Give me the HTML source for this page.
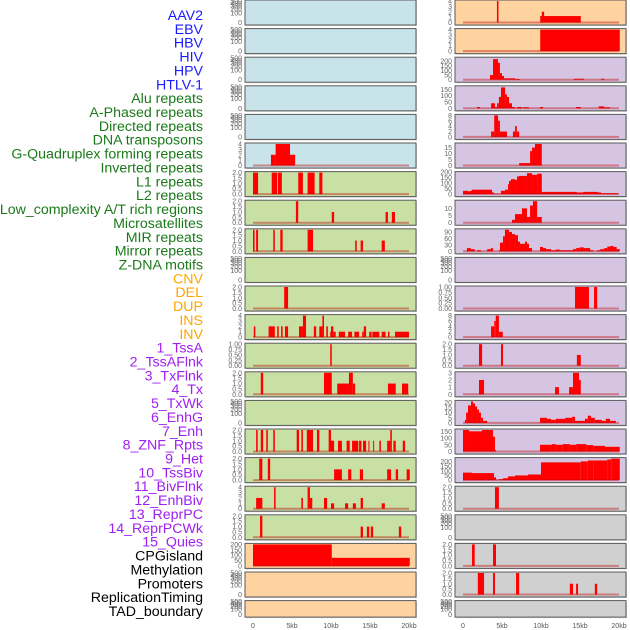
<!DOCTYPE html>
<html><head><meta charset="utf-8"><style>
html,body{margin:0;padding:0;background:#fff;}
svg{display:block;font-family:"Liberation Sans",sans-serif;}
</style></head><body>
<svg id="chart" width="630" height="630" viewBox="0 0 630 630"></svg>
<script>
const NS="http://www.w3.org/2000/svg";
const labels=["AAV2","EBV","HBV","HIV","HPV","HTLV-1","Alu repeats","A-Phased repeats","Directed repeats","DNA transposons","G-Quadruplex forming repeats","Inverted repeats","L1 repeats","L2 repeats","Low_complexity A/T rich regions","Microsatellites","MIR repeats","Mirror repeats","Z-DNA motifs","CNV","DEL","DUP","INS","INV","1_TssA","2_TssAFlnk","3_TxFlnk","4_Tx","5_TxWk","6_EnhG","7_Enh","8_ZNF_Rpts","9_Het","10_TssBiv","11_BivFlnk","12_EnhBiv","13_ReprPC","14_ReprPCWk","15_Quies","CPGisland","Methylation","Promoters","ReplicationTiming","TAD_boundary"];
const labelGroups=[6,13,5,15,5];
const groupColors=["#1a1aff","#1a7a1a","#ffa500","#a020f0","#000000"];
const xTicks=[0,5,10,15,20];
const xTickLabels=["0","5kb","10kb","15kb","20kb"];
const leftBg=["b","b","b","b","b","b","g","g","g","g","g","g","g","g","g","g","g","g","g","o","o","o"];
const rightBg=["o","o","p","p","p","p","p","p","p","p","p","p","p","p","p","p","p","y","y","y","y","y"];
const leftMax=[0,0,0,0,0,4,2,2,2,0,2,4,1,2,0,2,2,4,2,200,0,0];
const rightMax=[4,4,230,170,8,18,195,15,100,0,1,8,2,3,21,160,230,2,0,2,2,0];
const leftTicks=[[],[],[],[],[],[0,1,2,3,4],[0,0.5,1,1.5,2],[0,0.5,1,1.5,2],[0,0.5,1,1.5,2],[],[0,0.5,1,1.5,2],[0,1,2,3,4],[0,0.25,0.5,0.75,1],[0,0.5,1,1.5,2],[],[0,0.5,1,1.5,2],[0,0.5,1,1.5,2],[0,1,2,3,4],[0,0.5,1,1.5,2],[0,50,100,150,200],[],[]];
const rightTicks=[[0,1,2,3,4],[0,1,2,3,4],[0,50,100,150,200],[0,50,100,150],[0,2,4,6,8],[0,5,10,15],[0,50,100,150,200],[0,5,10],[0,30,60,90],[],[0,0.25,0.5,0.75,1],[0,2,4,6,8],[0,0.5,1,1.5,2],[0,1,2,3],[0,5,10,15,20],[0,50,100,150],[0,50,100,150,200],[0,0.5,1,1.5,2],[],[0,0.5,1,1.5,2],[0,0.5,1,1.5,2],[]];
const emptyTicks=[0,100,200,300,400,500];
const leftBars=[[],[],[],[],[],
[[2.3,2.9,2],[2.9,4.75,4],[4.75,5.4,2]],
[[0,0.65,2],[2.4,3.1,2],[3.2,3.7,2],[5.8,6.4,2],[7.0,7.9,2],[8.5,8.9,2]],
[[5.5,5.8,2],[10.1,10.4,1],[17.0,17.3,1],[17.8,18.2,1]],
[[0,0.2,2],[0.4,0.65,2],[2.6,2.8,2],[3.5,3.8,2],[7.0,7.7,2],[13.1,13.3,1],[13.8,14.1,1],[16.5,16.9,1]],
[],
[[4.0,4.5,2]],
[[0.1,0.3,2],[2.0,2.8,2],[3.1,3.3,2],[3.6,3.8,2],[4.1,4.5,2],[5.9,6.4,2],[6.4,6.8,4],[7.8,8.1,2],[8.5,8.9,2],[8.9,9.1,4],[9.4,9.6,2],[9.9,10.0,1],[10.0,10.3,2],[10.3,10.6,1],[11.0,11.8,1],[12.2,12.7,1],[13.0,13.6,1],[14.0,14.2,1],[14.2,14.5,2],[14.9,15.2,1],[15.3,16.2,1],[16.5,17.0,1],[17.3,17.5,1],[18.2,20.0,1]],
[[9.9,10.1,1]],
[[1.0,1.3,2],[9.1,10.1,2],[10.8,12.3,1],[12.3,12.8,2],[12.8,13.1,1],[17.3,18.3,1],[19.1,19.9,1]],
[],
[[0.4,0.6,2],[1.0,1.3,2],[1.7,1.9,2],[2.6,2.8,2],[5.6,5.9,2],[6.2,6.4,2],[6.9,7.7,2],[8.2,8.5,2],[9.7,10.0,2],[10.0,10.4,1],[10.9,11.4,1],[12.0,12.4,1],[12.7,13.5,1],[13.6,13.9,1],[14.1,14.5,1],[14.8,14.9,1],[15.4,15.5,1],[16.2,16.4,1],[17.2,17.6,1],[17.6,17.8,2],[18.0,18.3,1],[19.2,19.5,1]],
[[0.8,1.2,2],[1.9,2.2,2],[10.4,11.4,1],[12.2,12.6,1],[13.7,14.1,1],[17.2,17.7,1],[18.3,18.6,1],[19.7,20.1,1]],
[[0.4,1.2,2],[2.7,2.9,4],[6.2,6.4,2],[7.0,7.3,4],[7.3,7.6,2],[9.1,9.5,2],[10.0,10.4,1],[11.8,12.2,1],[12.8,13.2,1],[13.8,14.1,2],[16.5,16.9,1]],
[[0.9,1.2,2],[13.8,14.1,1],[14.6,14.9,1],[15.1,15.4,1],[18.7,19.0,1]],
[[0,10.1,200],[10.1,20.1,75]],
[],[]];
const rightBars=[
[[4.35,4.55,4],[9.9,15.1,1.2],[10.1,10.4,2]],
[[9.9,20.1,4]],
[[3.46,3.85,50],[3.85,4.49,220],[4.49,4.74,180],[4.74,5.0,70],[5.0,5.26,40],[5.26,6.67,15],[6.67,7.3,8],[14.2,15.5,10],[17.7,18.1,10]],
[[1.8,2.2,10],[3.6,4.1,40],[4.1,4.36,10],[4.36,4.6,40],[4.6,4.87,90],[4.87,5.4,165],[5.4,5.64,110],[5.64,5.9,90],[5.9,6.28,40],[6.28,6.67,10],[6.9,7.56,10],[7.7,8.46,8],[9.87,10.26,10],[14.5,15.1,10],[17.4,18.1,15],[18.1,18.85,8]],
[[3.6,4.0,2],[4.0,4.5,8],[4.5,4.74,6],[4.74,5.64,2],[6.4,6.67,2],[6.67,6.9,4],[6.9,7.2,2]],
[[7.2,8.6,2],[8.6,8.85,12],[8.85,9.23,15],[9.23,10.1,18]],
[[0,0.64,30],[0.64,0.9,25],[0.9,1.15,30],[1.15,3.72,40],[3.72,3.97,15],[3.97,4.87,3],[4.87,5.38,30],[5.38,5.77,40],[5.77,5.9,90],[5.9,6.15,120],[6.15,6.67,135],[6.67,6.92,130],[6.92,7.18,160],[7.18,8.2,165],[8.2,8.85,190],[8.85,9.5,175],[9.5,10.1,185],[10.1,14.6,20],[14.6,15.4,15],[15.4,17.3,20],[17.3,17.7,15],[17.7,19.9,8]],
[[6.28,6.67,2],[6.67,7.56,6],[7.56,8.2,10],[8.2,8.6,4],[8.6,8.97,12],[8.97,9.5,15],[9.5,10.1,4]],
[[0.5,1.0,15],[1.0,1.5,10],[1.8,2.3,5],[3.1,3.6,10],[3.6,3.85,15],[4.6,4.74,5],[4.74,5.13,40],[5.13,5.38,70],[5.38,5.9,100],[5.9,6.28,90],[6.28,6.67,80],[6.67,7.05,75],[7.05,7.3,45],[7.3,7.95,35],[7.95,8.2,45],[8.2,8.46,35],[8.46,8.85,15],[9.87,10.26,20],[10.26,10.64,15],[10.64,11.3,10],[11.3,11.9,5],[11.9,12.4,8],[12.4,14.1,5],[14.1,14.5,10],[14.5,14.9,15],[14.9,15.5,18],[15.5,16.3,15],[16.3,16.7,5],[17.2,17.6,5],[17.6,18.1,10],[18.1,18.5,15],[18.5,18.9,22],[18.9,19.3,25],[19.3,19.7,20],[19.7,20.1,10]],
[],
[[14.36,16.15,1],[16.8,17.2,1]],
[[3.6,4.0,4],[4.0,4.2,6],[4.2,4.6,8],[4.6,5.1,2]],
[[2.05,2.45,2],[4.87,5.13,2],[14.6,15.1,1]],
[[2.05,2.7,2],[11.8,12.3,1],[13.6,14.1,1],[14.1,14.87,3],[14.87,15.1,2]],
[[0.25,0.4,3],[0.4,0.64,10],[0.64,1.03,17],[1.03,1.28,21],[1.28,1.54,19],[1.54,1.8,16],[1.8,2.05,13],[2.05,2.3,10],[2.3,2.56,5],[2.56,3.1,2],[9.87,10.77,5],[10.77,11.3,4],[11.3,11.9,3],[11.9,13.1,4],[13.1,14.0,5],[14.0,14.36,6],[14.36,14.75,2],[14.75,15.64,2],[15.64,16.0,4],[16.0,16.4,7],[16.4,16.9,5],[16.9,17.8,3],[17.8,18.3,2],[18.3,18.85,4],[18.85,19.2,2],[19.2,19.6,2]],
[[0,0.77,160],[0.77,2.44,150],[2.44,3.85,160],[3.85,4.1,110],[4.1,4.23,10],[9.87,11.4,50],[11.4,11.9,55],[11.9,12.8,50],[12.8,13.7,55],[13.7,14.5,50],[14.5,15.8,55],[15.8,16.7,48],[16.7,18.2,42],[18.2,20.1,35]],
[[0,1.15,80],[1.15,3.97,75],[3.97,4.23,30],[4.23,4.5,5],[4.6,5.13,10],[5.13,5.77,20],[5.77,6.67,40],[6.67,8.33,50],[8.33,10.0,60],[10.0,15.1,190],[15.1,16.0,200],[16.0,16.7,210],[16.7,18.5,210],[18.5,19.0,220],[19.0,20.1,230]],
[[4.1,4.6,2]],
[],
[[1.15,1.5,2],[3.85,4.23,2]],
[[1.9,2.7,2],[3.85,4.1,2],[6.8,7.2,2],[13.7,14.1,1],[14.5,14.75,1],[16.9,17.2,1]],
[]];

const bgMap={b:"#c8e3ea",g:"#c8e0a4",o:"#ffd3a0",p:"#d6c5e2",y:"#d0d0d0"};
const svg=document.getElementById("chart");
function mk(tag,attrs,parent){const e=document.createElementNS(NS,tag);for(const k in attrs)e.setAttribute(k,attrs[k]);(parent||svg).appendChild(e);return e;}
function fmt(v,ticks){const dec=ticks.some(t=>Math.abs(t*4-Math.round(t*4))<1e-9&&t%0.5!==0)?2:(ticks.some(t=>t%1!==0)?1:0);return v.toFixed(dec);}

let li=0;
labelGroups.forEach((n,g)=>{for(let k=0;k<n;k++){const t=mk("text",{x:203,y:(15+li*13.86+5).toFixed(1),"text-anchor":"end","font-size":"14.2",fill:groupColors[g]});


t.textContent=labels[li];li++;}});

function drawColumn(colIdx,x0,x1,bgs,maxs,ticksArr,bars){
  const xs=v=>x0+8+v*(x1-x0-15)/20;
  for(let r=0;r<22;r++){
    const top=r*28.6, h=(r===21?16.5:25);
    const g=mk("g",{});
    
    
    mk("rect",{x:x0+1,y:top+1,width:x1-x0,height:h,fill:"#aaa",opacity:0.5},g);
    const bg=mk("rect",{x:x0,y:top,width:x1-x0,height:h,fill:bgMap[bgs[r]],stroke:"#5a5a5a","stroke-width":1},g);
    
    
    const pt=top+1, pb=top+h-2.5;
    const ticks=ticksArr[r];
    if(ticks.length===0){
      emptyTicks.forEach(t=>{const y=pb-Math.sqrt(t/500)*(pb-pt);
        const tt=mk("text",{x:x0-3,y:(y+2.5).toFixed(1),"text-anchor":"end","font-size":"7",fill:"#666"},g);
        
        
        tt.textContent=String(t);});
      continue;
    }
    const ys=v=>pb-v/maxs[r]*(pb-pt);
    ticks.forEach(t=>{const tt=mk("text",{x:x0-3,y:(ys(t)+2.5).toFixed(1),"text-anchor":"end","font-size":"7",fill:"#666"},g);
      
      
      tt.textContent=fmt(t,ticks);});
    bars[r].forEach(b=>{const y=ys(b[2]);
      const rc=mk("rect",{x:xs(b[0]).toFixed(2),y:y.toFixed(2),width:Math.max(1,xs(b[1])-xs(b[0])).toFixed(2),height:(pb-y).toFixed(2),fill:"#ff0000"},g);
      
      });
    const bl=mk("line",{x1:xs(0),x2:xs(20),y1:pb,y2:pb,stroke:"rgba(190,0,0,0.4)","stroke-width":2},g);
    
    
  }
  xTicks.forEach((t,i)=>{const tt=mk("text",{x:xs(t),y:628,"text-anchor":"middle","font-size":"7",fill:"#555"});
    
    
    tt.textContent=xTickLabels[i];});
}
drawColumn(0,245,416,leftBg,leftMax,leftTicks,leftBars);
drawColumn(1,455,626,rightBg,rightMax,rightTicks,rightBars);
</script>
</body></html>
